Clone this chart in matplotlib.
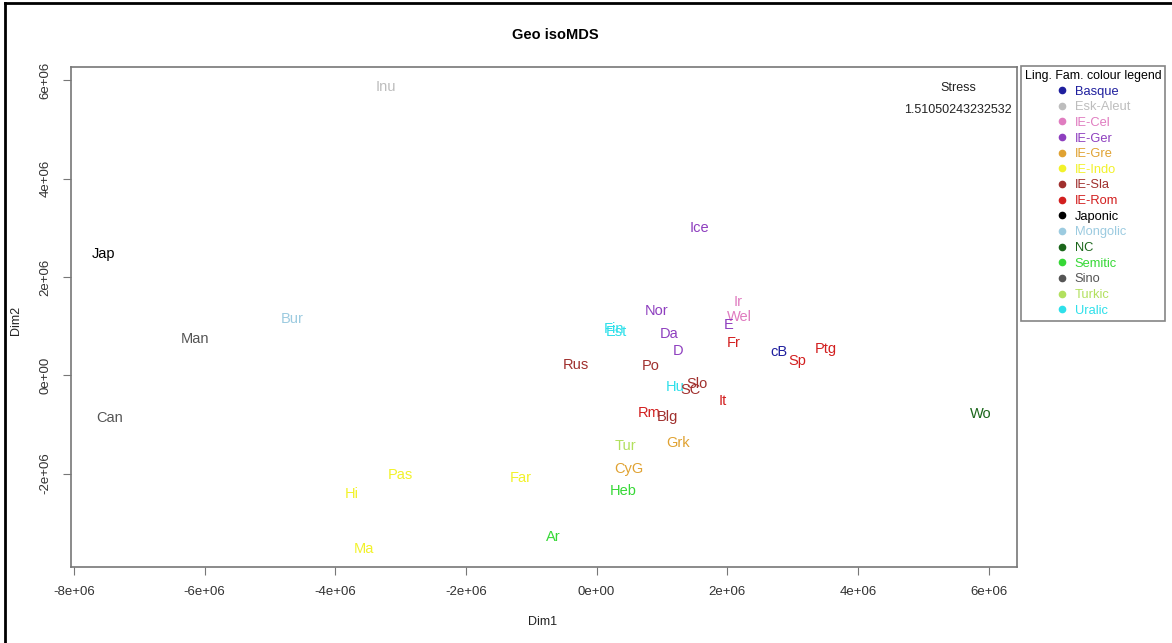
import matplotlib.pyplot as plt
from matplotlib.lines import Line2D

plt.rcParams['font.family'] = ['Liberation Sans', 'DejaVu Sans']

# language families and their colours (legend order)
families = ['Basque', 'Esk-Aleut', 'IE-Cel', 'IE-Ger', 'IE-Gre', 'IE-Indo', 'IE-Sla',
            'IE-Rom', 'Japonic', 'Mongolic', 'NC', 'Semitic', 'Sino', 'Turkic', 'Uralic']
fam_colors = ['#1f1f9e', '#bdbdbd', '#e07cc0', '#8e3fbf', '#e0a232', '#f2f22a', '#a0302e',
              '#d21f1f', '#000000', '#9ccbe0', '#1b661b', '#36d836', '#555555', '#b2e05e', '#2ee0ea']

# MDS coordinates (units of 1e6)
langs = ['Inu', 'Jap', 'Bur', 'Man', 'Can', 'Ice', 'Ir', 'Wel', 'E', 'Nor', 'Fin', 'Est',
         'Da', 'D', 'Fr', 'cB', 'Sp', 'Ptg', 'Rus', 'Po', 'Hu', 'Slo', 'SC', 'It', 'Rm',
         'Blg', 'Wo', 'Tur', 'Grk', 'CyG', 'Heb', 'Pas', 'Hi', 'Far', 'Ar', 'Ma']
dim1 = [-3.23, -7.54, -4.66, -6.15, -7.46, 1.57, 2.16, 2.18, 2.02, 0.92, 0.27, 0.30,
        1.11, 1.25, 2.10, 2.79, 3.07, 3.51, -0.32, 0.83, 1.20, 1.54, 1.43, 1.93, 0.80,
        1.09, 5.88, 0.44, 1.25, 0.49, 0.40, -3.01, -3.75, -1.16, -0.67, -3.56]
dim2 = [5.86, 2.46, 1.14, 0.74, -0.87, 3.00, 1.49, 1.19, 1.02, 1.31, 0.95, 0.87,
        0.84, 0.50, 0.66, 0.47, 0.29, 0.54, 0.21, 0.19, -0.24, -0.18, -0.30, -0.52, -0.77,
        -0.85, -0.79, -1.44, -1.38, -1.91, -2.35, -2.03, -2.42, -2.09, -3.29, -3.53]
lang_fam = ['Esk-Aleut', 'Japonic', 'Mongolic', 'Sino', 'Sino', 'IE-Ger', 'IE-Cel', 'IE-Cel',
            'IE-Ger', 'IE-Ger', 'Uralic', 'Uralic', 'IE-Ger', 'IE-Ger', 'IE-Rom', 'Basque',
            'IE-Rom', 'IE-Rom', 'IE-Sla', 'IE-Sla', 'Uralic', 'IE-Sla', 'IE-Sla', 'IE-Rom',
            'IE-Rom', 'IE-Sla', 'NC', 'Turkic', 'IE-Gre', 'IE-Gre', 'Semitic', 'IE-Indo',
            'IE-Indo', 'IE-Indo', 'Semitic', 'IE-Indo']
stress = '1.51050243232532'

col = dict(zip(families, fam_colors))

fig = plt.figure(figsize=(11.72, 6.43), dpi=100)
ax = fig.add_axes([0.0603, 0.1182, 0.8072, 0.7776])

for name, x, y, f in zip(langs, dim1, dim2, lang_fam):
    ax.text(x * 1e6, y * 1e6, name, color=col[f], fontsize=10.5, ha='center', va='center')

ax.text(5.53e6, 5.85e6, 'Stress', fontsize=9, color='#222222', ha='center', va='center')
ax.text(5.53e6, 5.40e6, stress, fontsize=9, color='#222222', ha='center', va='center')

ax.set_xlim(-8.05e6, 6.43e6)
ax.set_ylim(-3.90e6, 6.27e6)
ax.set_xticks([-8e6, -6e6, -4e6, -2e6, 0, 2e6, 4e6, 6e6])
ax.set_xticklabels(['-8e+06', '-6e+06', '-4e+06', '-2e+06', '0e+00', '2e+06', '4e+06', '6e+06'])
ax.set_yticks([-2e6, 0, 2e6, 4e6, 6e6])
ax.set_yticklabels(['-2e+06', '0e+00', '2e+06', '4e+06', '6e+06'], rotation=90, va='center')
ax.tick_params(colors='#777777', labelcolor='#333333', labelsize=9.5, length=6, pad=8)
for s in ax.spines.values():
    s.set_color('#777777')
    s.set_linewidth(1.2)

fig.text(543 / 1172, 1 - 622 / 643, 'Dim1', fontsize=9, color='#222222', ha='center', va='center')
fig.text(16 / 1172, 1 - 320 / 643, 'Dim2', fontsize=9, color='#222222', ha='center', va='center',
         rotation=90)
fig.text(555 / 1172, 1 - 35 / 643, 'Geo isoMDS', fontsize=10.5, fontweight='bold',
         ha='center', va='center')

handles = [Line2D([], [], marker='o', linestyle='', color=c, markersize=4.5) for c in fam_colors]
leg = fig.legend(handles, families, loc='upper left', bbox_to_anchor=(1021 / 1172, 1 - 66 / 643),
                 title='Ling. Fam. colour legend', title_fontsize=8.9, fontsize=9.3,
                 labelcolor=fam_colors, frameon=True, fancybox=False, alignment='center',
                 handlelength=0.8, handletextpad=0.6, labelspacing=0.28, borderpad=0.3,
                 borderaxespad=0)
leg.get_frame().set_edgecolor('#666666')
leg.get_frame().set_linewidth(1.2)

# outer screenshot frame
fig.add_artist(Line2D([5 / 1172, 5 / 1172], [0, 1 - 3 / 643], color='black', lw=2))
fig.add_artist(Line2D([5 / 1172, 1], [1 - 3 / 643, 1 - 3 / 643], color='black', lw=2))

fig.savefig('out.png', dpi=100)
